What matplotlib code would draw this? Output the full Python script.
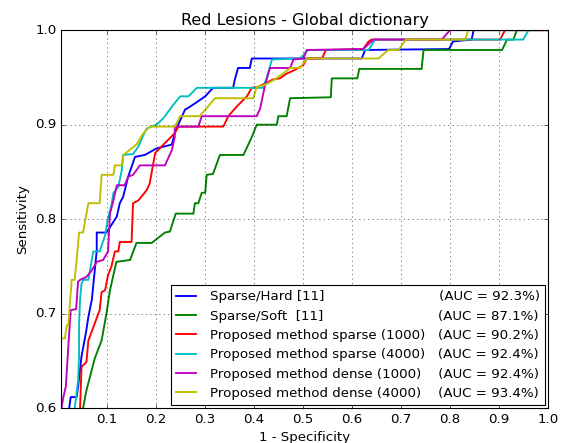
import numpy as np
import matplotlib
matplotlib.use('Agg')
import matplotlib.pyplot as plt
from matplotlib.textpath import TextPath
from matplotlib.font_manager import FontProperties

plt.style.use('classic')
plt.rcParams['figure.facecolor'] = 'white'
plt.rcParams['savefig.facecolor'] = 'white'
plt.rcParams['font.family'] = ['DejaVu Sans']

# ROC points (1 - specificity, sensitivity)
blue_fpr = [0.020, 0.024, 0.027, 0.039, 0.042, 0.049, 0.058, 0.063, 0.070, 0.076,
            0.080, 0.080, 0.100, 0.121, 0.127, 0.134, 0.144, 0.158, 0.178, 0.202,
            0.233, 0.239, 0.246, 0.260, 0.270, 0.290, 0.301, 0.317, 0.358, 0.361,
            0.368, 0.392, 0.396, 0.620, 0.627, 0.798, 0.806, 0.844, 0.848, 1.0]
blue_tpr = [0.580, 0.601, 0.612, 0.612, 0.623, 0.655, 0.680, 0.697, 0.715, 0.746,
            0.767, 0.786, 0.786, 0.803, 0.817, 0.824, 0.845, 0.866, 0.868, 0.875,
            0.879, 0.891, 0.900, 0.916, 0.919, 0.926, 0.930, 0.939, 0.939, 0.947,
            0.960, 0.960, 0.970, 0.970, 0.979, 0.980, 0.988, 0.990, 1.0, 1.0]

green_fpr = [0.050, 0.052, 0.059, 0.066, 0.076, 0.090, 0.100, 0.107, 0.120, 0.148,
             0.161, 0.192, 0.219, 0.229, 0.241, 0.277, 0.280, 0.287, 0.294, 0.301,
             0.304, 0.317, 0.331, 0.379, 0.396, 0.406, 0.447, 0.450, 0.467, 0.474,
             0.557, 0.559, 0.611, 0.615, 0.742, 0.746, 0.906, 0.916, 0.929, 0.936, 1.0]
green_tpr = [0.580, 0.600, 0.619, 0.633, 0.653, 0.672, 0.701, 0.725, 0.755, 0.757,
             0.775, 0.775, 0.786, 0.787, 0.806, 0.806, 0.817, 0.817, 0.828, 0.828,
             0.847, 0.848, 0.868, 0.868, 0.887, 0.900, 0.900, 0.909, 0.909, 0.928,
             0.929, 0.949, 0.949, 0.959, 0.959, 0.979, 0.979, 0.990, 0.990, 1.0, 1.0]

red_fpr = [0.045, 0.046, 0.049, 0.059, 0.063, 0.066, 0.076, 0.086, 0.090, 0.097,
           0.103, 0.110, 0.117, 0.124, 0.127, 0.151, 0.154, 0.165, 0.182, 0.188,
           0.199, 0.216, 0.239, 0.246, 0.338, 0.348, 0.365, 0.386, 0.396, 0.409,
           0.440, 0.453, 0.467, 0.484, 0.501, 0.508, 0.539, 0.547, 0.623, 0.634,
           0.640, 0.902, 0.912, 1.0]
red_tpr = [0.580, 0.600, 0.644, 0.649, 0.672, 0.676, 0.690, 0.704, 0.723, 0.725,
           0.741, 0.750, 0.766, 0.766, 0.776, 0.776, 0.817, 0.820, 0.831, 0.838,
           0.870, 0.879, 0.891, 0.898, 0.898, 0.909, 0.919, 0.930, 0.939, 0.940,
           0.948, 0.949, 0.954, 0.958, 0.963, 0.970, 0.970, 0.979, 0.980, 0.988,
           0.990, 0.990, 1.0, 1.0]

cyan_fpr = [0.034, 0.035, 0.039, 0.042, 0.044, 0.044, 0.046, 0.049, 0.052, 0.063,
            0.073, 0.086, 0.097, 0.103, 0.110, 0.114, 0.124, 0.131, 0.134, 0.154,
            0.165, 0.175, 0.182, 0.202, 0.216, 0.236, 0.250, 0.267, 0.284, 0.419,
            0.426, 0.437, 0.494, 0.511, 0.634, 0.647, 0.949, 0.960, 1.0]
cyan_tpr = [0.580, 0.600, 0.616, 0.630, 0.655, 0.690, 0.715, 0.732, 0.736, 0.736,
            0.766, 0.766, 0.783, 0.801, 0.815, 0.828, 0.834, 0.852, 0.868, 0.869,
            0.877, 0.889, 0.896, 0.900, 0.907, 0.921, 0.930, 0.930, 0.939, 0.939,
            0.949, 0.969, 0.970, 0.979, 0.979, 0.990, 0.990, 1.0, 1.0]

mag_fpr = [0.005, 0.008, 0.012, 0.017, 0.022, 0.027, 0.038, 0.042, 0.046, 0.059,
           0.070, 0.080, 0.093, 0.103, 0.107, 0.114, 0.121, 0.137, 0.144, 0.154,
           0.168, 0.219, 0.233, 0.239, 0.239, 0.287, 0.294, 0.406, 0.413, 0.423,
           0.433, 0.474, 0.481, 0.501, 0.508, 0.623, 0.644, 0.783, 0.800, 1.0]
mag_tpr = [0.580, 0.600, 0.612, 0.623, 0.665, 0.704, 0.705, 0.734, 0.736, 0.739,
           0.746, 0.755, 0.757, 0.766, 0.806, 0.820, 0.836, 0.836, 0.845, 0.847,
           0.857, 0.857, 0.873, 0.887, 0.898, 0.898, 0.909, 0.909, 0.917, 0.942,
           0.960, 0.960, 0.969, 0.970, 0.979, 0.980, 0.990, 0.990, 1.0, 1.0]

yel_fpr = [0.0, 0.015, 0.019, 0.022, 0.029, 0.035, 0.039, 0.044, 0.052, 0.063,
           0.086, 0.090, 0.114, 0.117, 0.131, 0.134, 0.161, 0.175, 0.188, 0.239,
           0.250, 0.290, 0.321, 0.399, 0.406, 0.423, 0.440, 0.460, 0.474, 0.494,
           0.508, 0.654, 0.674, 0.695, 0.710, 0.831, 0.837, 1.0]
yel_tpr = [0.674, 0.674, 0.688, 0.688, 0.736, 0.736, 0.757, 0.786, 0.786, 0.817,
           0.817, 0.847, 0.847, 0.857, 0.857, 0.868, 0.879, 0.891, 0.898, 0.898,
           0.909, 0.909, 0.928, 0.928, 0.940, 0.942, 0.947, 0.954, 0.960, 0.960,
           0.970, 0.970, 0.979, 0.979, 0.990, 0.990, 1.0, 1.0]

names = ['Sparse/Hard [11]', 'Sparse/Soft  [11]',
         'Proposed method sparse (1000)', 'Proposed method sparse (4000)',
         'Proposed method dense (1000)', 'Proposed method dense (4000)']
aucs = [92.3, 87.1, 90.2, 92.4, 92.4, 93.4]
colors = ['b', 'g', 'r', 'c', 'm', 'y']

curves = [(blue_fpr, blue_tpr), (green_fpr, green_tpr), (red_fpr, red_tpr),
          (cyan_fpr, cyan_tpr), (mag_fpr, mag_tpr), (yel_fpr, yel_tpr)]

# pad names with spaces so the AUC column lines up on the right
fp = FontProperties(family='DejaVu Sans', size=12)
def text_width(s):
    return TextPath((0, 0), s, prop=fp).get_extents().width

target = 326 * 72.0 / 80
space = text_width('a a') - text_width('aa')
labels = []
for name, auc in zip(names, aucs):
    tail = '(AUC = %.1f%%)' % auc
    w = text_width(name + 'x' + tail) - text_width('x')
    n = max(1, int(round((target - w) / space)))
    labels.append(name + ' ' * n + tail)

fig = plt.figure(figsize=(564 / 80.0, 443 / 80.0), dpi=80)
ax = fig.add_axes([0.108, 0.078, 0.864, 0.854])

for (x, y), c, lab in zip(curves, colors, labels):
    ax.plot(x, y, color=c, linewidth=1.7, label=lab)

ax.set_xlim(0.007, 1.0)
ax.set_ylim(0.6, 1.0)
ax.set_xticks(np.arange(0.1, 1.01, 0.1))
ax.set_yticks(np.arange(0.6, 1.01, 0.1))
ax.grid(True)
ax.set_title('Red Lesions - Global dictionary')
ax.set_xlabel('1 - Specificity', fontsize=12)
ax.set_ylabel('Sensitivity', fontsize=12)

leg = ax.legend(loc='lower right', fontsize=12, handlelength=1.5,
                handletextpad=1.0, labelspacing=0.47, borderpad=0.4,
                borderaxespad=0.25, fancybox=False, numpoints=1)
leg.get_frame().set_linewidth(1.0)

fig.savefig('out.png', dpi=80)
